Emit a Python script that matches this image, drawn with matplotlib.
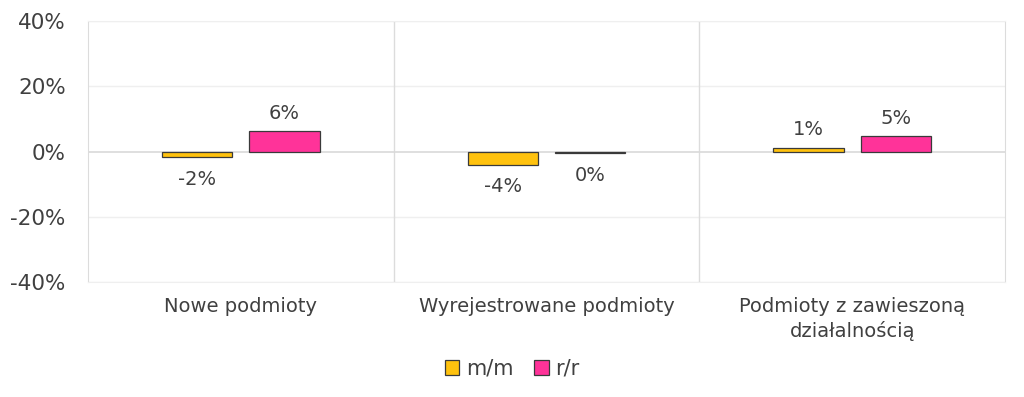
import matplotlib
matplotlib.use("Agg")
import matplotlib.pyplot as plt
import numpy as np
from matplotlib.ticker import FuncFormatter

categories = ["Nowe podmioty", "Wyrejestrowane podmioty", "Podmioty z zawieszoną\ndziałalnością"]
mm_values = [-1.8, -4.1, 1.2]
rr_values = [6.3, -0.5, 4.8]
mm_labels = ["-2%", "-4%", "1%"]
rr_labels = ["6%", "0%", "5%"]
series_names = ["m/m", "r/r"]
yticks = [-40, -20, 0, 20, 40]

plt.rcParams['font.family'] = ['DejaVu Sans']
text_color = "#404040"

fig = plt.figure(figsize=(10.24, 3.97), dpi=100)
ax = fig.add_axes([88/1024, 1-282/397, (1005-88)/1024, (282-21)/397])

x = np.arange(len(categories))
w = 0.23
off = 0.143
b1 = ax.bar(x - off, mm_values, w, color="#FFC20E", edgecolor="#3a3a3a", linewidth=0.9, label=series_names[0], zorder=3)
b2 = ax.bar(x + off, rr_values, w, color="#FF3399", edgecolor="#3a3a3a", linewidth=0.9, label=series_names[1], zorder=3)

for bars, vals, labs in [(b1, mm_values, mm_labels), (b2, rr_values, rr_labels)]:
    for rect, v, l in zip(bars, vals, labs):
        cx = rect.get_x() + rect.get_width()/2
        if v >= 0:
            ax.annotate(l, (cx, v), xytext=(0, 6), textcoords="offset points", ha="center", va="bottom", fontsize=14, color=text_color)
        else:
            ax.annotate(l, (cx, v), xytext=(0, -9), textcoords="offset points", ha="center", va="top", fontsize=14, color=text_color)

ax.set_xlim(-0.5, len(categories) - 0.5)
ax.set_ylim(-40, 40)
ax.set_yticks(yticks)
ax.yaxis.set_major_formatter(FuncFormatter(lambda v, p: f"{int(v)}%"))
ax.tick_params(axis="y", length=0, labelsize=15.5, labelcolor=text_color, pad=16)
ax.set_xticks(x)
ax.set_xticklabels(categories, fontsize=14, color=text_color, linespacing=1.3)
ax.tick_params(axis="x", length=0, pad=11)

for yv in [-20, 20, 40, -40]:
    ax.axhline(yv, color="#efefef", linewidth=1, zorder=1)
ax.axhline(0, color="#d9d9d9", linewidth=1.2, zorder=2)
for xv in [0.5, 1.5]:
    ax.axvline(xv, color="#dcdcdc", linewidth=1, zorder=1)
for s in ["left", "right"]:
    ax.spines[s].set_color("#dcdcdc")
for s in ["top", "bottom"]:
    ax.spines[s].set_color("#efefef")

leg = fig.legend(loc="center", bbox_to_anchor=(512/1024, 1-369/397), ncol=2, frameon=False,
                 fontsize=15, handlelength=0.7, handleheight=0.7, handletextpad=0.3, columnspacing=1.0)
for t in leg.get_texts():
    t.set_color(text_color)

fig.savefig("out.png", dpi=100, facecolor="white")
